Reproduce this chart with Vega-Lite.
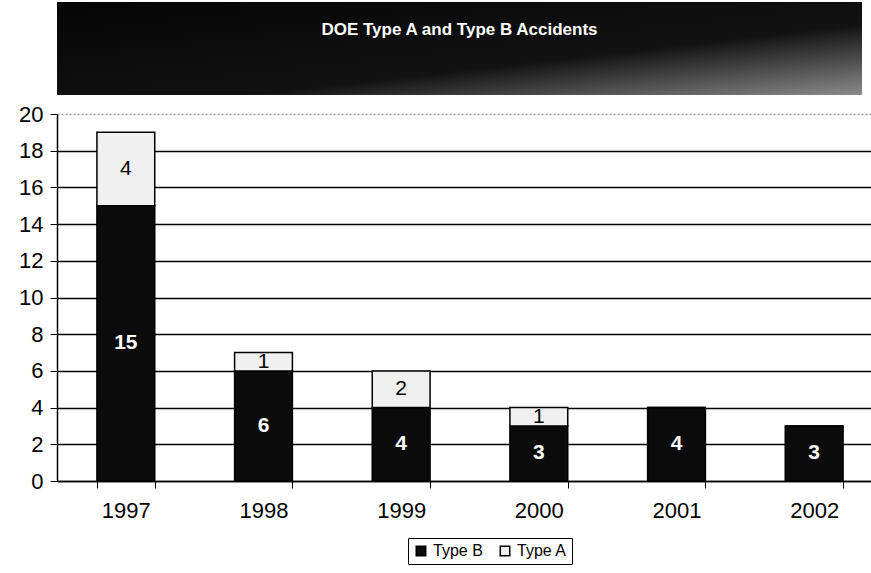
{
  "$schema": "https://vega.github.io/schema/vega-lite/v6.json",
  "background": "white",
  "padding": {"left": 18, "top": 2, "right": 0, "bottom": 0},
  "bounds": "flush",
  "spacing": 19,
  "config": {
    "font": "Liberation Sans",
    "view": {"stroke": null},
    "axisY": {
      "title": null,
      "values": [0, 2, 4, 6, 8, 10, 12, 14, 16, 18, 20],
      "labelOverlap": false,
      "labelFontSize": 22,
      "labelColor": "black",
      "labelPadding": 7,
      "tickColor": "black",
      "tickSize": 7,
      "domainColor": "black",
      "domainWidth": 1.5,
      "grid": true,
      "gridColor": {"condition": {"test": "datum.value == 20", "value": "#9a9a9a"}, "value": "black"},
      "gridDash": {"condition": {"test": "datum.value == 20", "value": [2, 2]}, "value": []},
      "gridWidth": 1.3
    }
  },
  "datasets": {
    "banner": [{"title": "DOE Type A and Type B Accidents"}],
    "acc": [
      {"year": "1997", "type": "Type B", "count": 15},
      {"year": "1997", "type": "Type A", "count": 4},
      {"year": "1998", "type": "Type B", "count": 6},
      {"year": "1998", "type": "Type A", "count": 1},
      {"year": "1999", "type": "Type B", "count": 4},
      {"year": "1999", "type": "Type A", "count": 2},
      {"year": "2000", "type": "Type B", "count": 3},
      {"year": "2000", "type": "Type A", "count": 1},
      {"year": "2001", "type": "Type B", "count": 4},
      {"year": "2001", "type": "Type A", "count": 0},
      {"year": "2002", "type": "Type B", "count": 3},
      {"year": "2002", "type": "Type A", "count": 0}
    ]
  },
  "vconcat": [
    {
      "width": 805,
      "height": 93,
      "data": {"name": "banner"},
      "layer": [
        {
          "mark": {
            "type": "rect",
            "color": {
              "gradient": "linear",
              "x1": 0, "y1": 0, "x2": 1, "y2": 1,
              "stops": [
                {"offset": 0, "color": "#050505"},
                {"offset": 0.62, "color": "#121212"},
                {"offset": 1, "color": "#8a8a8a"}
              ]
            }
          },
          "encoding": {}
        },
        {
          "mark": {"type": "text", "color": "white", "fontWeight": "bold", "fontSize": 17, "dy": -19},
          "encoding": {"text": {"field": "title"}}
        }
      ]
    },
    {
      "width": 826,
      "height": 367,
      "data": {"name": "acc"},
      "encoding": {
        "x": {
          "field": "year",
          "type": "nominal",
          "scale": {"paddingInner": 0.58, "paddingOuter": 0.29},
          "axis": {
            "title": null,
            "labelAngle": 0,
            "labelFontSize": 22,
            "labelColor": "black",
            "labelPadding": 12,
            "tickBand": "extent",
            "tickColor": "black",
            "tickSize": 7,
            "domainColor": "black",
            "domainWidth": 1.5,
            "grid": false
          }
        }
      },
      "layer": [
        {
          "mark": {"type": "bar", "stroke": "black", "strokeWidth": 1.5},
          "encoding": {
            "y": {
              "field": "count",
              "type": "quantitative",
              "stack": "zero",
              "title": null,
              "scale": {"domain": [0, 20], "nice": false}
            },
            "color": {
              "field": "type",
              "type": "nominal",
              "scale": {"domain": ["Type B", "Type A"], "range": ["#0b0b0b", "#f0f0f0"]},
              "legend": {
                "title": null,
                "orient": "none",
                "legendX": 351,
                "legendY": 536,
                "direction": "horizontal",
                "symbolType": "square",
                "symbolSize": 90,
                "symbolStrokeColor": "black",
                "symbolStrokeWidth": 1.5,
                "labelFontSize": 16,
                "labelColor": "black",
                "strokeColor": "black",
                "padding": 5,
                "columnPadding": 14
              }
            },
            "order": {"field": "type", "sort": "descending"}
          }
        },
        {
          "transform": [
            {"stack": "count", "groupby": ["year"], "sort": [{"field": "type", "order": "descending"}], "as": ["y0", "y1"]},
            {"filter": {"field": "type", "equal": "Type B"}},
            {"fold": ["y0", "y1"], "as": ["edge", "v"]},
            {"aggregate": [{"op": "mean", "field": "v", "as": "mid"}], "groupby": ["year", "type", "count"]}
          ],
          "mark": {"type": "text", "color": "white", "fontWeight": "bold", "fontSize": 21},
          "encoding": {
            "y": {"field": "mid", "type": "quantitative", "title": null},
            "text": {"field": "count", "type": "quantitative"}
          }
        },
        {
          "transform": [
            {"stack": "count", "groupby": ["year"], "sort": [{"field": "type", "order": "descending"}], "as": ["y0", "y1"]},
            {"filter": {"field": "type", "equal": "Type A"}},
            {"filter": {"field": "count", "gt": 0}},
            {"fold": ["y0", "y1"], "as": ["edge", "v"]},
            {"aggregate": [{"op": "mean", "field": "v", "as": "mid"}], "groupby": ["year", "type", "count"]}
          ],
          "mark": {"type": "text", "color": "black", "fontSize": 21},
          "encoding": {
            "y": {"field": "mid", "type": "quantitative", "title": null},
            "text": {"field": "count", "type": "quantitative"}
          }
        }
      ]
    }
  ]
}
